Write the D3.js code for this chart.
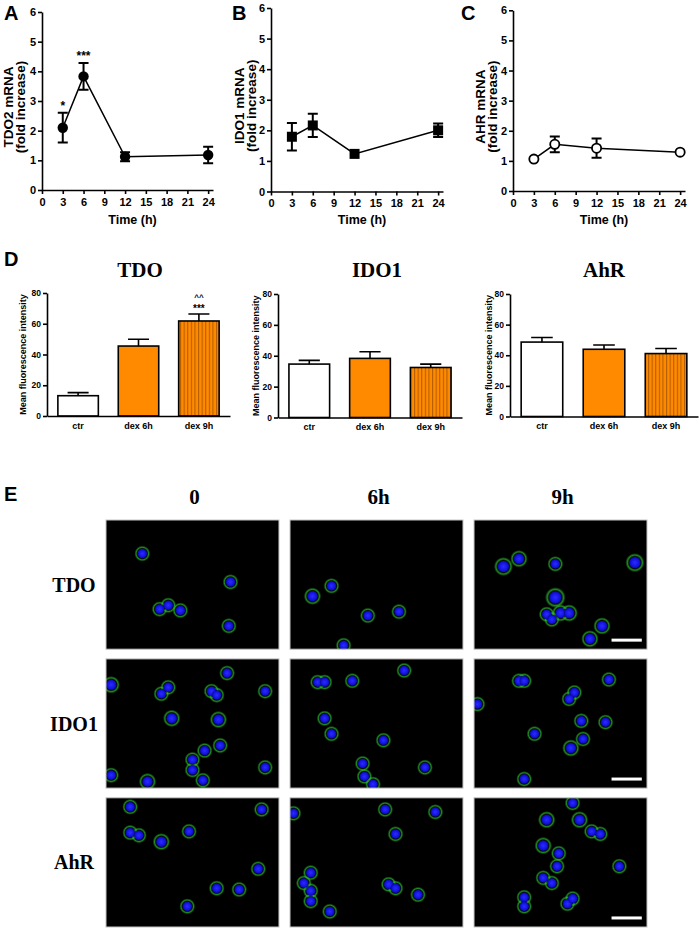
<!DOCTYPE html>
<html>
<head>
<meta charset="utf-8">
<script src="https://cdn.jsdelivr.net/npm/d3@7"></script>
<style>
  body { margin: 0; background: #fff; }
  svg text { font-family: "Liberation Sans", Arial, sans-serif; font-weight: bold; }
  svg text.serif { font-family: "Liberation Serif", "Times New Roman", serif; }
</style>
</head>
<body>
<div id="chart"></div>
<script>
// ---- data: qPCR time course (A-C)
const times = [3, 6, 12, 24];
const timeTicks = [0, 3, 6, 9, 12, 15, 18, 21, 24];
const foldTicks = [0, 1, 2, 3, 4, 5, 6];
const tdo2Mean = [2.1, 3.83, 1.12, 1.18];
const tdo2Err = [0.5, 0.45, 0.15, 0.28];
const tdo2Stars = ['*', '***', '', ''];
const ido1Mean = [1.79, 2.16, 1.23, 2.0];
const ido1Err = [0.45, 0.38, 0.05, 0.22];
const ahrMean = [1.06, 1.55, 1.42, 1.29];
const ahrErr = [0.03, 0.26, 0.32, 0.03];

// ---- data: mean fluorescence intensity (D)
const barCats = ['ctr', 'dex 6h', 'dex 9h'];
const mfiTicks = [0, 20, 40, 60, 80];
const tdoMfi = [13.2, 45.5, 61.8];
const tdoMfiErr = [2.0, 4.4, 4.5];
const ido1Mfi = [34.6, 38.3, 32.4];
const ido1MfiErr = [2.4, 4.3, 2.2];
const ahrMfi = [48.6, 43.9, 41.1];
const ahrMfiErr = [3.0, 2.8, 3.3];

// ---- data: immunofluorescence fields (E), cell positions as fractions of the field
const imgCols = ['0', '6h', '9h'];
const imgRows = ['TDO', 'IDO1', 'AhR'];
const cellsTdo0 = [[0.21, 0.26], [0.72, 0.48], [0.31, 0.69], [0.36, 0.66], [0.43, 0.70], [0.71, 0.82]];
const cellsTdo6 = [[0.13, 0.59, 1.1], [0.24, 0.51], [0.45, 0.74], [0.63, 0.71], [0.31, 0.97]];
const cellsTdo9 = [[0.17, 0.36, 1.2], [0.26, 0.30, 1.1], [0.47, 0.34], [0.93, 0.33, 1.2], [0.47, 0.60, 1.3],
  [0.42, 0.73], [0.45, 0.77], [0.50, 0.72, 1.1], [0.55, 0.72, 1.1], [0.74, 0.82, 1.1], [0.67, 0.92, 1.1]];
const cellsIdo0 = [[0.03, 0.20, 1.1], [0.36, 0.22], [0.32, 0.27], [0.70, 0.11], [0.61, 0.25], [0.64, 0.28],
  [0.92, 0.25], [0.38, 0.46, 1.1], [0.65, 0.47, 1.1], [0.57, 0.71], [0.66, 0.67], [0.50, 0.78],
  [0.50, 0.86], [0.56, 0.94], [0.03, 0.90], [0.24, 0.95, 1.1], [0.92, 0.84]];
const cellsIdo6 = [[0.16, 0.18], [0.20, 0.18], [0.36, 0.17], [0.66, 0.09], [0.20, 0.46], [0.24, 0.58],
  [0.54, 0.63], [0.42, 0.81], [0.43, 0.91], [0.78, 0.84], [0.48, 0.97]];
const cellsIdo9 = [[0.26, 0.17], [0.29, 0.17], [0.78, 0.16], [0.58, 0.26], [0.55, 0.31], [0.02, 0.35],
  [0.62, 0.48], [0.76, 0.49], [0.35, 0.58], [0.63, 0.62], [0.56, 0.69, 1.1], [0.29, 0.93]];
const cellsAhr0 = [[0.14, 0.07], [0.14, 0.27], [0.19, 0.29], [0.32, 0.34, 1.1], [0.48, 0.26], [0.90, 0.09],
  [0.88, 0.55], [0.64, 0.70], [0.77, 0.71], [0.47, 0.84]];
const cellsAhr6 = [[0.02, 0.12], [0.55, 0.09], [0.84, 0.11], [0.61, 0.28], [0.12, 0.58], [0.12, 0.72],
  [0.12, 0.80], [0.08, 0.66], [0.23, 0.88], [0.57, 0.67], [0.61, 0.70], [0.74, 0.75]];
const cellsAhr9 = [[0.57, 0.04], [0.42, 0.17, 1.1], [0.61, 0.17, 1.1], [0.68, 0.26], [0.73, 0.28], [0.40, 0.37, 1.1],
  [0.49, 0.43], [0.48, 0.53], [0.40, 0.62], [0.45, 0.66], [0.84, 0.53], [0.29, 0.77], [0.29, 0.84],
  [0.54, 0.82], [0.57, 0.78]];
const cellGrid = [
  [cellsTdo0, cellsTdo6, cellsTdo9],
  [cellsIdo0, cellsIdo6, cellsIdo9],
  [cellsAhr0, cellsAhr6, cellsAhr9],
];

const FONT = '"Liberation Sans", Arial, sans-serif';
const ORANGE = '#ff8a00';

const svg = d3.select('#chart').append('svg')
  .attr('width', 699)
  .attr('height', 930);

// defs: stripe pattern and cell gradients
const defs = svg.append('defs');
const stripes = defs.append('pattern')
  .attr('id', 'stripes')
  .attr('patternUnits', 'userSpaceOnUse')
  .attr('width', 3.6)
  .attr('height', 10);
stripes.append('rect').attr('width', 3.6).attr('height', 10).attr('fill', ORANGE);
stripes.append('rect').attr('width', 1.1).attr('height', 10).attr('fill', '#b55e00');

const halo = defs.append('radialGradient').attr('id', 'halo');
[[0, 0], [0.62, 0.05], [0.78, 0.7], [0.9, 0.3], [1, 0]].forEach(([o, a]) => {
  halo.append('stop').attr('offset', o).attr('stop-color', '#2fc42f').attr('stop-opacity', a);
});
const nuc = defs.append('radialGradient').attr('id', 'nuc');
nuc.append('stop').attr('offset', 0).attr('stop-color', '#2b2bff');
nuc.append('stop').attr('offset', 0.7).attr('stop-color', '#1212e0');
nuc.append('stop').attr('offset', 1).attr('stop-color', '#0a0a90');

function styleAxis(a, size) {
  a.attr('font-family', FONT).attr('font-size', size);
  a.select('.domain').attr('stroke-width', 1.6);
  a.selectAll('.tick line').attr('stroke-width', 1.6);
}

function panelLetter(letter, x, y) {
  svg.append('text').attr('x', x).attr('y', y).attr('font-size', 20).text(letter);
}

// ---- A, B, C: line charts
const linePanels = [
  { letter: 'A', lx: 4, mean: tdo2Mean, err: tdo2Err, stars: tdo2Stars, marker: 'circle',
    title: ['TDO2 mRNA', '(fold increase)'], titleX: [13, 25], xr: [42, 213], yr: [190, 12] },
  { letter: 'B', lx: 232, mean: ido1Mean, err: ido1Err, stars: [], marker: 'square',
    title: ['IDO1 mRNA', '(fold increase)'], titleX: [244, 256], xr: [271, 443], yr: [191.5, 8] },
  { letter: 'C', lx: 461, mean: ahrMean, err: ahrErr, stars: [], marker: 'open',
    title: ['AHR mRNA', '(fold increase)'], titleX: [485, 497], xr: [513, 685], yr: [191, 10.3] },
];

linePanels.forEach((p) => {
  const x = d3.scaleLinear().domain([0, 24.7]).range(p.xr);
  const y = d3.scaleLinear().domain([0, 6]).range(p.yr);
  const g = svg.append('g');

  panelLetter(p.letter, p.lx, 20);

  const xa = g.append('g')
    .attr('transform', `translate(0,${p.yr[0]})`)
    .call(d3.axisBottom(x).tickValues(timeTicks).tickFormat(d3.format('d'))
      .tickSize(4).tickSizeOuter(0).tickPadding(4));
  styleAxis(xa, 11);
  const ya = g.append('g')
    .attr('transform', `translate(${p.xr[0]},0)`)
    .call(d3.axisLeft(y).tickValues(foldTicks).tickFormat(d3.format('d'))
      .tickSize(4).tickSizeOuter(0).tickPadding(2));
  styleAxis(ya, 11);

  g.append('text')
    .attr('x', (p.xr[0] + p.xr[1]) / 2 + 5)
    .attr('y', 224)
    .attr('text-anchor', 'middle')
    .attr('font-size', 12.5)
    .text('Time (h)');

  p.title.forEach((t, i) => {
    g.append('text')
      .attr('transform', `translate(${p.titleX[i]},${(p.yr[0] + p.yr[1]) / 2 + 6}) rotate(-90)`)
      .attr('text-anchor', 'middle')
      .attr('font-size', 13.5)
      .text(t);
  });

  const pts = times.map((t, i) => ({ t, m: p.mean[i], e: p.err[i], s: p.stars[i] || '' }));

  g.append('path')
    .datum(pts)
    .attr('fill', 'none')
    .attr('stroke', '#000')
    .attr('stroke-width', 1.5)
    .attr('d', d3.line().x((d) => x(d.t)).y((d) => y(d.m)));

  // error bars
  pts.filter((d) => d.e > 0.06).forEach((d) => {
    const cx = x(d.t);
    const top = y(d.m + d.e);
    const bot = y(d.m - d.e);
    g.append('path')
      .attr('fill', 'none')
      .attr('stroke', '#000')
      .attr('stroke-width', 2)
      .attr('d', `M${cx},${top}V${bot}M${cx - 5},${top}H${cx + 5}M${cx - 5},${bot}H${cx + 5}`);
  });

  // markers
  pts.forEach((d) => {
    if (p.marker === 'square') {
      g.append('rect')
        .attr('x', x(d.t) - 5).attr('y', y(d.m) - 5)
        .attr('width', 10).attr('height', 10)
        .attr('fill', '#000');
    } else {
      g.append('circle')
        .attr('cx', x(d.t)).attr('cy', y(d.m))
        .attr('r', p.marker === 'open' ? 4.6 : 5.2)
        .attr('fill', p.marker === 'open' ? '#fff' : '#000')
        .attr('stroke', '#000')
        .attr('stroke-width', p.marker === 'open' ? 1.8 : 0);
    }
  });

  pts.filter((d) => d.s).forEach((d) => {
    g.append('text')
      .attr('x', x(d.t))
      .attr('y', y(d.m + d.e) - 3)
      .attr('text-anchor', 'middle')
      .attr('font-size', 12)
      .text(d.s);
  });
});

// ---- D: bar charts
panelLetter('D', 4, 266);

const barPanels = [
  { title: 'TDO', tx: 140, vals: tdoMfi, errs: tdoMfiErr, xr: [47, 230], yr: [416, 293], titleX: 26,
    marks: ['', '', '***'], marks2: ['', '', '^^'] },
  { title: 'IDO1', tx: 377, vals: ido1Mfi, errs: ido1MfiErr, xr: [278, 462], yr: [417.5, 294], titleX: 259,
    marks: [], marks2: [] },
  { title: 'AhR', tx: 604, vals: ahrMfi, errs: ahrMfiErr, xr: [510, 698], yr: [416.5, 294], titleX: 492,
    marks: [], marks2: [] },
];
const barFills = ['#fff', ORANGE, 'url(#stripes)'];

barPanels.forEach((p) => {
  const x = d3.scaleBand().domain(barCats).range(p.xr).paddingInner(0.33).paddingOuter(0.18);
  const y = d3.scaleLinear().domain([0, 80]).range(p.yr);
  const g = svg.append('g');
  const bw = x.bandwidth();

  g.append('text')
    .attr('class', 'serif')
    .attr('x', p.tx).attr('y', 277)
    .attr('text-anchor', 'middle')
    .attr('font-size', 21)
    .text(p.title);

  g.append('text')
    .attr('transform', `translate(${p.titleX},${(p.yr[0] + p.yr[1]) / 2}) rotate(-90)`)
    .attr('text-anchor', 'middle')
    .attr('font-size', 9)
    .text('Mean fluorescence intensity');

  // error bars (upper only)
  barCats.forEach((c, i) => {
    const cx = x(c) + bw / 2;
    const top = y(p.vals[i] + p.errs[i]);
    g.append('path')
      .attr('fill', 'none')
      .attr('stroke', '#000')
      .attr('stroke-width', 1.6)
      .attr('d', `M${cx},${y(p.vals[i])}V${top}M${cx - bw * 0.26},${top}H${cx + bw * 0.26}`);
  });

  g.selectAll('rect.bar')
    .data(barCats)
    .enter()
    .append('rect')
    .attr('class', 'bar')
    .attr('x', (c) => x(c))
    .attr('y', (c, i) => y(p.vals[i]))
    .attr('width', bw)
    .attr('height', (c, i) => y(0) - y(p.vals[i]))
    .attr('fill', (c, i) => barFills[i])
    .attr('stroke', '#000')
    .attr('stroke-width', 1.6);

  const xa = g.append('g')
    .attr('transform', `translate(0,${p.yr[0]})`)
    .call(d3.axisBottom(x).tickSize(0).tickSizeOuter(0).tickPadding(6.5));
  styleAxis(xa, 9);
  const ya = g.append('g')
    .attr('transform', `translate(${p.xr[0]},0)`)
    .call(d3.axisLeft(y).tickValues(mfiTicks).tickSize(4).tickSizeOuter(0).tickPadding(2));
  styleAxis(ya, 8.5);

  barCats.forEach((c, i) => {
    const top = y(p.vals[i] + p.errs[i]);
    if (p.marks[i]) {
      g.append('text').attr('x', x(c) + bw / 2).attr('y', top - 2)
        .attr('text-anchor', 'middle').attr('font-size', 10).text(p.marks[i]);
    }
    if (p.marks2[i]) {
      g.append('text').attr('x', x(c) + bw / 2).attr('y', top - 14)
        .attr('text-anchor', 'middle').attr('font-size', 8).text(p.marks2[i]);
    }
  });
});

// ---- E: immunofluorescence micrographs
panelLetter('E', 4, 501);

const colScale = d3.scaleBand().domain(imgCols).range([106, 647]).paddingInner(0.06);
const rowScale = d3.scaleBand().domain(imgRows).range([520, 927]).paddingInner(0.07);

imgCols.forEach((c) => {
  svg.append('text')
    .attr('class', 'serif')
    .attr('x', colScale(c) + colScale.bandwidth() / 2 + 2)
    .attr('y', 504)
    .attr('text-anchor', 'middle')
    .attr('font-size', 21)
    .text(c);
});

imgRows.forEach((r, ri) => {
  svg.append('text')
    .attr('class', 'serif')
    .attr('x', 74)
    .attr('y', rowScale(r) + rowScale.bandwidth() / 2 + 7)
    .attr('text-anchor', 'middle')
    .attr('font-size', 20)
    .text(r);

  imgCols.forEach((c, ci) => {
    const x0 = colScale(c);
    const y0 = rowScale(r);
    const w = colScale.bandwidth();
    const h = rowScale.bandwidth();
    const u = d3.scaleLinear().domain([0, 1]).range([x0, x0 + w]);
    const v = d3.scaleLinear().domain([0, 1]).range([y0, y0 + h]);
    const clipId = `clip-${ri}-${ci}`;
    defs.append('clipPath').attr('id', clipId)
      .append('rect').attr('x', x0).attr('y', y0).attr('width', w).attr('height', h);

    const g = svg.append('g');
    g.append('rect')
      .attr('x', x0).attr('y', y0)
      .attr('width', w).attr('height', h)
      .attr('fill', '#000');

    const cg = g.append('g').attr('clip-path', `url(#${clipId})`);
    const cells = cellGrid[ri][ci];
    cg.selectAll('circle.halo')
      .data(cells)
      .enter()
      .append('circle')
      .attr('class', 'halo')
      .attr('cx', (d) => u(d[0]))
      .attr('cy', (d) => v(d[1]))
      .attr('r', (d) => 8 * (d[2] || 1))
      .attr('fill', 'url(#halo)');
    cg.selectAll('circle.nuc')
      .data(cells)
      .enter()
      .append('circle')
      .attr('class', 'nuc')
      .attr('cx', (d) => u(d[0]))
      .attr('cy', (d) => v(d[1]))
      .attr('r', (d) => 4.8 * (d[2] || 1))
      .attr('fill', 'url(#nuc)');

    if (ci === imgCols.length - 1) {
      g.append('rect')
        .attr('x', u(0.795)).attr('y', v(0.93) - 1.5)
        .attr('width', u(0.97) - u(0.795)).attr('height', 3)
        .attr('fill', '#fff');
    }

    g.append('rect')
      .attr('x', x0).attr('y', y0)
      .attr('width', w).attr('height', h)
      .attr('fill', 'none')
      .attr('stroke', '#c4c4c4')
      .attr('stroke-width', 1);
  });
});
</script>
</body>
</html>
